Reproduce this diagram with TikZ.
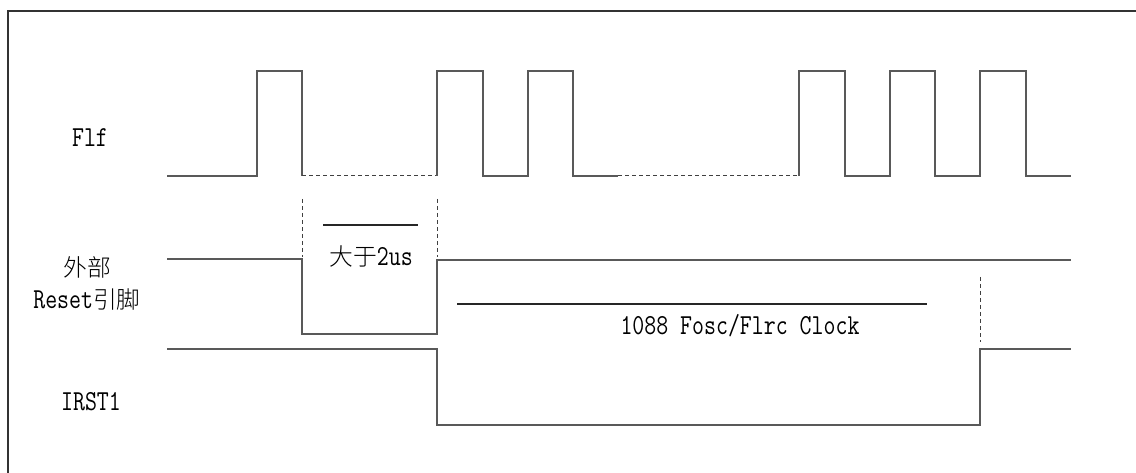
\documentclass[tikz,border=0pt]{standalone}
\usepackage{fontspec}
\newfontfamily\cjk[Scale=0.82]{Noto Sans CJK SC Light}
\newfontfamily\mono[FakeStretch=0.8]{Latin Modern Mono}
\begin{document}
\begin{tikzpicture}[x=1pt,y=-1pt,
  wave/.style={draw=black!65,line width=1.3pt},
  sig/.style={draw=black!85,line width=1.1pt},
  dsh/.style={draw=black!75,line width=1pt,dash pattern=on 4pt off 3pt},
  lbl/.style={font=\fontsize{29}{32}\selectfont\mono,inner sep=0pt,align=center},
  frm/.style={draw=black!80,line width=1.6pt}]
\useasboundingbox (0,0) rectangle (1136,473);
\fill[white] (0,0) rectangle (1136,473);
% frame
\draw[frm] (8,473) -- (8,11) -- (1136,11);
% labels
\node[lbl] (flf) at (90,138) {Flf};
\node[lbl] (rst) at (87,283) {{\cjk 外部}\\[0pt]Reset{\cjk 引脚}};
\node[lbl] (irst) at (91,402) {IRST1};
% Flf waveform
\draw[wave] (167,176) -- (257,176) -- (257,71) -- (302,71) -- (302,176);
\draw[dsh] (302,176) -- (437,176);
\draw[wave] (437,176) -- (437,71) -- (483,71) -- (483,176) -- (528,176) -- (528,71) -- (573,71) -- (573,176) -- (618,176);
\draw[dsh] (618,176) -- (799,176);
\draw[wave] (799,176) -- (799,71) -- (845,71) -- (845,176) -- (890,176) -- (890,71) -- (935,71) -- (935,176) -- (980,176) -- (980,71) -- (1026,71) -- (1026,176) -- (1071,176);
% Reset waveform
\draw[wave] (167,259) -- (302,259) -- (302,334) -- (437,334) -- (437,260) -- (1071,260);
\draw[dsh] (302,199) -- (302,257);
\draw[dsh] (437,199) -- (437,257);
\draw[sig] (323,225) -- (418,225);
\node[lbl] (t2us) at (371,256) {{\cjk 大于}2us};
% IRST1 waveform
\draw[wave] (167,349) -- (437,349) -- (437,425) -- (980,425) -- (980,349) -- (1071,349);
\draw[dsh] (980,277) -- (980,342);
\draw[sig] (457,304) -- (927,304);
\node[lbl] (clk) at (740,326) {1088 Fosc/Flrc Clock};
\end{tikzpicture}
\end{document}
